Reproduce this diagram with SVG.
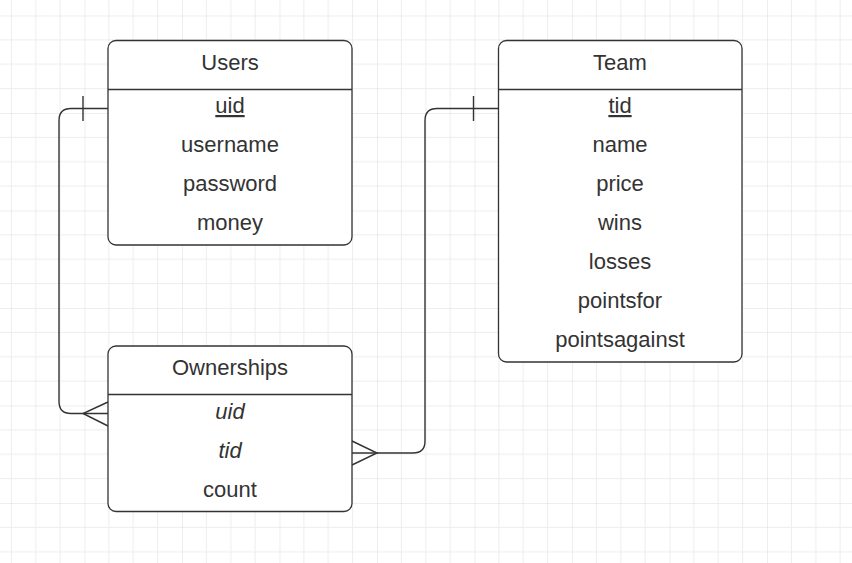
<svg xmlns="http://www.w3.org/2000/svg" width="852" height="563" viewBox="0 0 852 563">
<defs>
<pattern id="grid" patternUnits="userSpaceOnUse" x="84.5" y="15.5" width="97.5" height="97.5">
<g stroke="#ededed" stroke-width="1">
<line x1="24.375" y1="0" x2="24.375" y2="97.5"/>
<line x1="48.75" y1="0" x2="48.75" y2="97.5"/>
<line x1="73.125" y1="0" x2="73.125" y2="97.5"/>
<line x1="0" y1="24.375" x2="97.5" y2="24.375"/>
<line x1="0" y1="48.75" x2="97.5" y2="48.75"/>
<line x1="0" y1="73.125" x2="97.5" y2="73.125"/>
</g>
<g stroke="#dedede" stroke-width="1">
<line x1="0" y1="0" x2="0" y2="97.5"/>
<line x1="0" y1="0" x2="97.5" y2="0"/>
</g>
</pattern>
</defs>
<style>
.box{fill:#ffffff;stroke:#333333;stroke-width:1.3}
.div{stroke:#333333;stroke-width:1.3}
.t{font-family:"Liberation Sans",Arial,sans-serif;font-size:22px;fill:#333333;text-anchor:middle}
.it{font-style:italic}
.u{text-decoration:underline}
.c{fill:none;stroke:#333333;stroke-width:1.4}
</style>
<rect width="852" height="563" fill="#ffffff"/>
<rect width="852" height="563" fill="url(#grid)"/>
<g id="connectors">
<path class="c" d="M108 108.5 H71 Q59 108.5 59 120.5 V401.5 Q59 413.5 71 413.5 H108"/>
<path class="c" d="M83 96 V121"/>
<path class="c" d="M108 402 L83 413.5 L108 426"/>
<path class="c" d="M498.5 108.5 H437 Q425 108.5 425 120.5 V441 Q425 453 413 453 H352"/>
<path class="c" d="M473.5 96 V121"/>
<path class="c" d="M352 441 L377 453 L352 465"/>
</g>
<g id="users">
<rect class="box" x="108" y="40.5" width="244" height="204.5" rx="8"/>
<line class="div" x1="108" y1="89.5" x2="352" y2="89.5"/>
<text class="t" x="230" y="70">Users</text>
<text class="t u" x="230" y="113">uid</text>
<text class="t" x="230" y="152">username</text>
<text class="t" x="230" y="191">password</text>
<text class="t" x="230" y="230">money</text>
</g>
<g id="team">
<rect class="box" x="498.5" y="40.5" width="243.5" height="321.5" rx="8"/>
<line class="div" x1="498.5" y1="89.5" x2="742" y2="89.5"/>
<text class="t" x="620" y="70">Team</text>
<text class="t u" x="620" y="113">tid</text>
<text class="t" x="620" y="152">name</text>
<text class="t" x="620" y="191">price</text>
<text class="t" x="620" y="230">wins</text>
<text class="t" x="620" y="269">losses</text>
<text class="t" x="620" y="308">pointsfor</text>
<text class="t" x="620" y="347">pointsagainst</text>
</g>
<g id="ownerships">
<rect class="box" x="108" y="346" width="244" height="165.5" rx="8"/>
<line class="div" x1="108" y1="394.5" x2="352" y2="394.5"/>
<text class="t" x="230" y="375">Ownerships</text>
<text class="t it" x="230" y="419">uid</text>
<text class="t it" x="230" y="458">tid</text>
<text class="t" x="230" y="497">count</text>
</g>
</svg>
